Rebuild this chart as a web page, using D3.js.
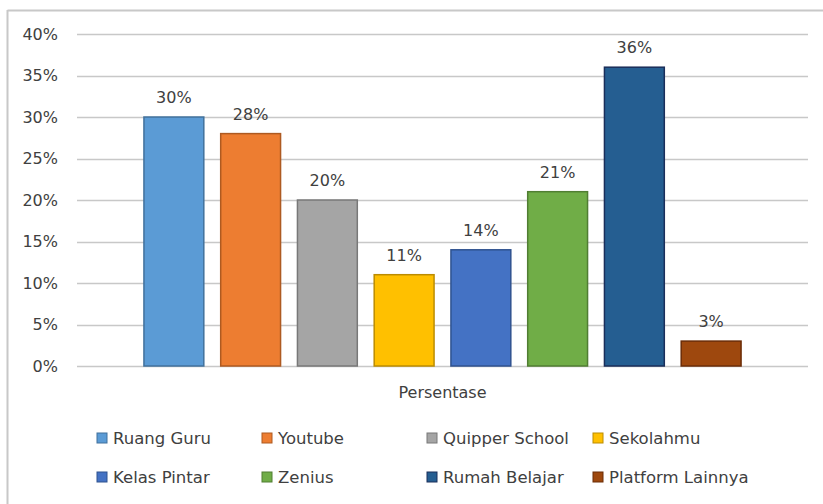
<!DOCTYPE html>
<html>
<head>
<meta charset="utf-8">
<script src="https://cdn.jsdelivr.net/npm/d3@7"></script>
<style>
  body { margin: 0; background: #fff; }
  text { font-family: "DejaVu Sans", sans-serif; fill: #404040; }
</style>
</head>
<body>
<svg class="chart" width="823" height="504"></svg>
<script>
const categories = ["Ruang Guru", "Youtube", "Quipper School", "Sekolahmu",
  "Kelas Pintar", "Zenius", "Rumah Belajar", "Platform Lainnya"];
const values = [30, 28, 20, 11, 14, 21, 36, 3];
const fills = ["#5B9BD5", "#ED7D31", "#A5A5A5", "#FFC000", "#4472C4", "#70AD47", "#255E91", "#9E480E"];
const strokes = ["#41719C", "#AE5A21", "#787878", "#BC8C00", "#2F528F", "#507E32", "#1A2E5A", "#6B2C07"];
const yTicks = [0, 5, 10, 15, 20, 25, 30, 35, 40];
const axisTitle = "Persentase";

const svg = d3.select(".chart");

// outer frame (only top & left visible in the picture)
svg.append("line").attr("x1", 7.5).attr("x2", 823).attr("y1", 10.5).attr("y2", 10.5)
  .style("stroke", "#c8c8c8").style("stroke-width", 2);
svg.append("line").attr("x1", 7.5).attr("x2", 7.5).attr("y1", 10).attr("y2", 504)
  .style("stroke", "#c8c8c8").style("stroke-width", 2);

const plotLeft = 77, plotRight = 808;
const y = d3.scaleLinear().domain([0, 40]).range([366, 34]);
const x = d3.scaleBand().domain(categories)
  .range([135.5, 749.5]).paddingInner(0.22).paddingOuter(0.11);

// gridlines
svg.append("g").selectAll("line").data(yTicks).enter().append("line")
  .attr("x1", plotLeft).attr("x2", plotRight)
  .attr("y1", d => Math.round(y(d)) + 0.5).attr("y2", d => Math.round(y(d)) + 0.5)
  .style("stroke", "#c8c8c8").style("stroke-width", 1.5);

// y axis labels
const axis = d3.axisLeft(y).tickValues(yTicks).tickFormat(d => d + "%").tickSize(0).tickPadding(0);
svg.append("g").attr("transform", "translate(58,0)").call(axis)
  .call(g => {
    g.select(".domain").remove();
    g.selectAll(".tick text").style("font-size", "16px").style("fill", "#404040")
      .style("font-family", "DejaVu Sans, sans-serif");
  });

// bars
const bar = svg.append("g").selectAll("g").data(categories).enter().append("g");
bar.append("rect")
  .attr("x", d => x(d))
  .attr("y", (d, i) => y(values[i]))
  .attr("width", x.bandwidth())
  .attr("height", (d, i) => y(0) - y(values[i]))
  .attr("fill", (d, i) => fills[i])
  .style("stroke", (d, i) => strokes[i])
  .style("stroke-width", 1.5);
bar.append("text")
  .attr("x", d => x(d) + x.bandwidth() / 2)
  .attr("y", (d, i) => y(values[i]) - 14)
  .attr("text-anchor", "middle")
  .style("font-size", "16px")
  .text((d, i) => values[i] + "%");

// category axis title
svg.append("text")
  .attr("x", (plotLeft + plotRight) / 2)
  .attr("y", 398)
  .attr("text-anchor", "middle")
  .style("font-size", "16px")
  .text(axisTitle);

// legend, 4 per row
const legendX = [97, 262, 427, 593];
const legendY = [438, 477];
const leg = svg.append("g").selectAll("g").data(categories).enter().append("g")
  .attr("transform", (d, i) => `translate(${legendX[i % 4]},${legendY[Math.floor(i / 4)]})`);
leg.append("rect")
  .attr("x", 0).attr("y", -5).attr("width", 10).attr("height", 10)
  .attr("fill", (d, i) => fills[i])
  .style("stroke", (d, i) => strokes[i]).style("stroke-width", 1);
leg.append("text")
  .attr("x", 16).attr("y", 0).attr("dy", "0.35em")
  .style("font-size", "16.5px")
  .text(d => d);
</script>
</body>
</html>
